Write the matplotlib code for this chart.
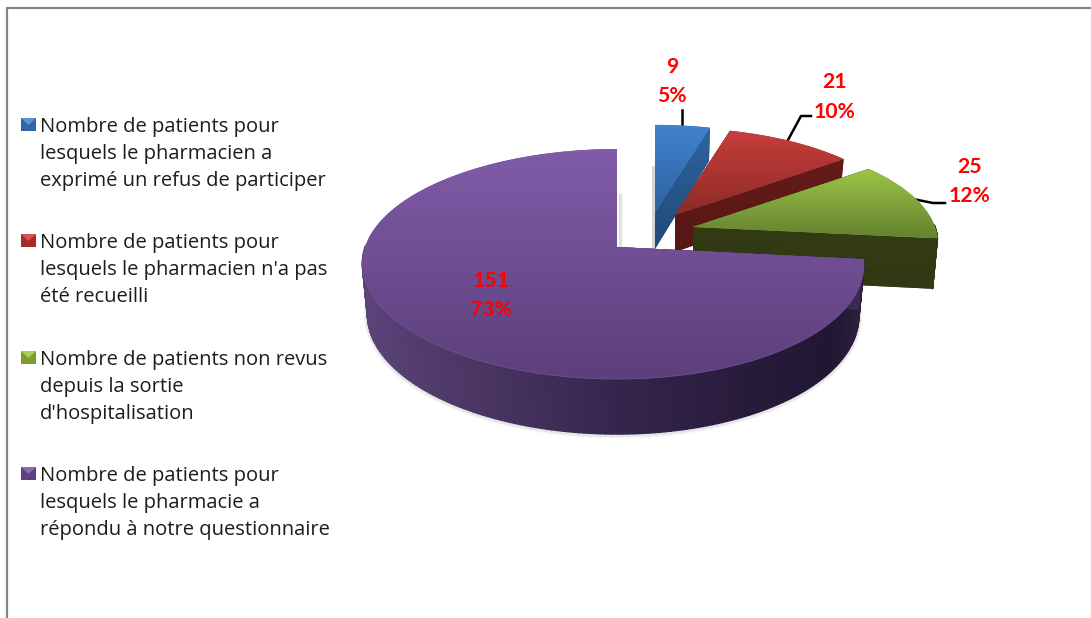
import numpy as np
import matplotlib
matplotlib.use("Agg")
import matplotlib.pyplot as plt
import matplotlib.transforms as mtrans
from matplotlib.collections import PolyCollection
from matplotlib.colors import LinearSegmentedColormap, to_rgb
from matplotlib.patches import Polygon, Rectangle

# data
values = [9, 21, 25, 151]
percents = [5, 10, 12, 73]
legend_labels = [
    ["Nombre de patients pour", "lesquels le pharmacien a", "exprimé un refus de participer"],
    ["Nombre de patients pour", "lesquels le pharmacien n'a pas", "été recueilli"],
    ["Nombre de patients non revus", "depuis la sortie", "d'hospitalisation"],
    ["Nombre de patients pour", "lesquels le pharmacie a", "répondu à notre questionnaire"],
]

# layout, in pixels of the picture
W, H = 1091, 618
apex = [(655, 212), (675, 215), (693, 227), (617, 247)]
radius_x = [232, 232, 242, 248]
radius_y = [100, 100, 104, 112.5]
depth = [37, 37, 50, 50]
bend = [0, 0, 0, 4]
top_colors = [("#4182d0", "#2f629f"), ("#c83e3b", "#8c2a27"), ("#9dc545", "#648230"), ("#805ca9", "#5d3f7b")]
cut_colors = [("#2f649f", "#1f4a78"), ("#661b19", "#561715"), ("#333c15", "#303913"), ("#3a2a50", "#3a2a50")]
wall_stops = [(0.0, "#5c457c"), (0.25, "#4b3664"), (0.5, "#35254d"), (0.75, "#261a39"), (0.9, "#211732"), (1.0, "#2f2140")]
key_colors = [("#5b93d6", "#2f67a6"), ("#d65552", "#a52c2a"), ("#a9d052", "#7a9c30"), ("#8a68b2", "#5f3f86")]
legend_baselines = [132, 248, 365, 481]
label_pos = [(672, 73), (835, 88), (970, 173), (491, 287)]
leaders = [[(682, 110), (682, 126)],
           [(788, 140), (801, 116), (811, 116)],
           [(913, 199), (933, 203), (945, 203)]]


class Perspective(mtrans.Transform):
    input_dims = 2
    output_dims = 2

    def __init__(self, i):
        super().__init__()
        self.i = i

    def transform_non_affine(self, v):
        v = np.asarray(v, dtype=float)
        x, y = v[:, 0], v[:, 1]
        w = 1 + 0.148 * y
        sx = apex[self.i][0] + radius_x[self.i] * x / w - bend[self.i] * x * x
        sy = apex[self.i][1] - radius_y[self.i] * y / w
        return np.column_stack([sx, sy])


def lower(i, pts, xy):
    # same outline moved to the floor of the slice
    out = pts.copy()
    out[:, 0] = apex[i][0] + (pts[:, 0] - apex[i][0]) * 0.98
    out[:, 1] = pts[:, 1] + depth[i] * (1 - 0.1 * xy[:, 1])
    return out


def gradient(ax, patch, c1, c2, z):
    ext = patch.get_path().transformed(patch.get_transform() - ax.transData).get_extents()
    cmap = LinearSegmentedColormap.from_list("g", [c1, c2])
    im = ax.imshow(np.linspace(0, 1, 256).reshape(-1, 1), cmap=cmap, aspect="auto", zorder=z,
                   extent=(ext.x0, ext.x1, ext.y1, ext.y0), origin="upper")
    im.set_clip_path(patch)


def draw_slice(ax, wedge, i):
    persp = Perspective(i)
    z = 2 + i * 5
    t = np.radians(np.linspace(wedge.theta1, wedge.theta2, 240))
    rim = np.column_stack([np.cos(t), np.sin(t)])
    rim_top = persp.transform(rim)
    rim_low = lower(i, rim_top, rim)

    # soft shadow under the outer wall
    if i == 3:
        front = rim[:, 1] < 0.15
        for lw, alpha in [(5, 0.06), (3, 0.1)]:
            ax.plot(rim_low[front, 0], rim_low[front, 1] + 1, color="#606060", lw=lw, alpha=alpha, zorder=z)

    # outer wall in thin strips, only the part that faces the viewer
    cmap = LinearSegmentedColormap.from_list("wall", wall_stops)
    keep = [k for k in range(len(t) - 1) if rim[k, 1] < 0.02]
    strips = [[rim_top[k], rim_top[k + 1], rim_low[k + 1], rim_low[k]] for k in keep]
    if i == 3:
        cols = [cmap((np.cos(t[k]) + 1) / 2) for k in keep]
    else:
        cols = [cut_colors[i][1]] * len(strips)
    if strips:
        ax.add_collection(PolyCollection(strips, facecolors=cols, edgecolors=cols, linewidths=1.0, zorder=z + 1))

    # flat cut faces
    for end in [rim[0], rim[-1]]:
        pair = np.array([[0, 0], end])
        p_top = persp.transform(pair)
        p_low = lower(i, p_top, pair)
        cut = Polygon(np.vstack([p_top, p_low[::-1]]), closed=True, fc=cut_colors[i][0], ec="none", zorder=z + 2)
        ax.add_patch(cut)
        gradient(ax, cut, cut_colors[i][0], cut_colors[i][1], z + 2)

    # top face, mid colour under the gradient so the edge has no dark fringe
    wedge.set_transform(persp + ax.transData)
    wedge.set_zorder(z + 3)
    mid = (np.array(to_rgb(top_colors[i][0])) + np.array(to_rgb(top_colors[i][1]))) / 2
    wedge.set_facecolor(mid)
    wedge.set_edgecolor("none")
    gradient(ax, wedge, top_colors[i][0], top_colors[i][1], z + 3)

    if i == 3:
        front = rim[:, 1] < -0.05
        ax.plot(rim_top[front, 0], rim_top[front, 1], color="#6f5194", lw=0.6, zorder=z + 4)


def draw_legend(ax):
    for i, lines in enumerate(legend_labels):
        base = legend_baselines[i]
        key = Rectangle((21, base - 14), 15, 13, fc=key_colors[i][1], ec="none", zorder=30)
        ax.add_patch(key)
        cap = Polygon([(21, base - 14), (36, base - 14), (28.5, base - 7)], closed=True,
                      fc=key_colors[i][0], ec="none", zorder=31)
        ax.add_patch(cap)
        for j, line in enumerate(lines):
            ax.text(40, base + 27 * j, line, fontsize=14.5, color="#1c1c1c", family="Open Sans",
                    va="baseline", zorder=32)


def main():
    fig = plt.figure(figsize=(W / 100, H / 100), dpi=100)
    ax = fig.add_axes([0, 0, 1, 1])
    wedges, _ = ax.pie(values, startangle=90, counterclock=False, colors=[c[1] for c in top_colors])
    ax.set_aspect("auto")

    # faint shadows next to the cut edges
    ax.plot([653, 653], [167, 249], color="#d4d4d4", lw=2, zorder=1)
    ax.plot([620, 620], [195, 247], color="#e2e2e2", lw=2.5, zorder=1)

    for i, w in enumerate(wedges):
        draw_slice(ax, w, i)

    for pts in leaders:
        xs, ys = zip(*pts)
        ax.plot(xs, ys, color="black", lw=1.8, zorder=1, solid_joinstyle="round")

    for v, p, (x, y) in zip(values, percents, label_pos):
        ax.text(x, y, str(v), fontsize=15.2, fontweight="bold", color="#ff0000", family="Lato",
                ha="center", va="baseline", zorder=40)
        ax.text(x, y + 29.5, f"{p}%", fontsize=15.2, fontweight="bold", color="#ff0000", family="Lato",
                ha="center", va="baseline", zorder=40)

    draw_legend(ax)

    # chart frame, cut by the edge of the picture
    ax.plot([7, 7, W], [H, 8, 8], color="#858585", lw=1.6, zorder=50, solid_joinstyle="miter")

    ax.set_xlim(0, W)
    ax.set_ylim(H, 0)
    ax.axis("off")
    fig.savefig("out.png", dpi=100, facecolor="white")


if __name__ == "__main__":
    main()
